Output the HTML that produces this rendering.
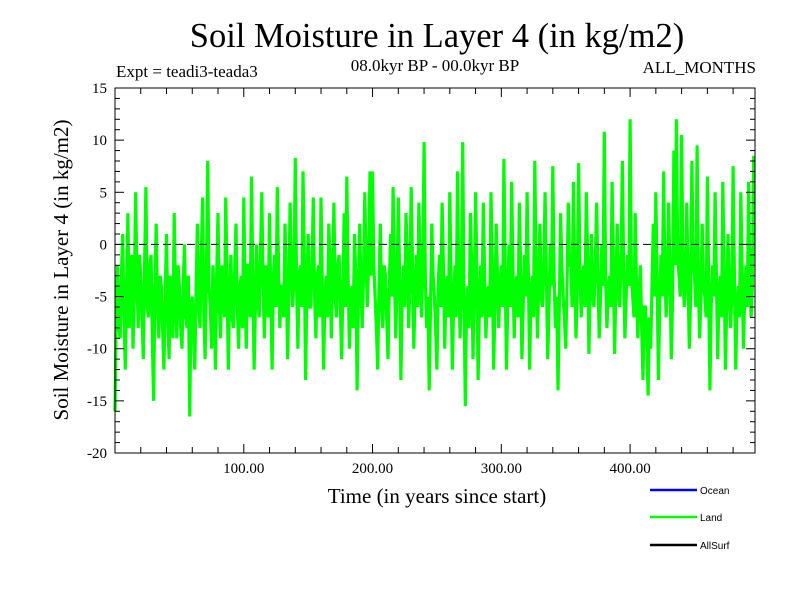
<!DOCTYPE html>
<html><head><meta charset="utf-8"><style>
body{margin:0;background:#fff}
svg{display:block;font-family:"Liberation Serif",serif}
</style></head><body>
<svg width="800" height="600" viewBox="0 0 800 600">
<rect width="800" height="600" fill="#fff"/>
<text x="437" y="47" font-size="34.5" text-anchor="middle">Soil Moisture in Layer 4 (in kg/m2)</text>
<text x="116" y="77" font-size="17">Expt = teadi3-teada3</text>
<text x="435" y="71" font-size="17" text-anchor="middle">08.0kyr BP - 00.0kyr BP</text>
<text x="756" y="73" font-size="17" text-anchor="end">ALL_MONTHS</text>
<g id="plot"></g>
<text x="437" y="503" font-size="21" text-anchor="middle">Time (in years since start)</text>
<text transform="translate(68,270) rotate(-90)" font-size="21" text-anchor="middle">Soil Moisture in Layer 4 (in kg/m2)</text>
<g font-family="Liberation Sans, sans-serif" font-size="10">
<g><line x1="650" y1="490" x2="697" y2="490" stroke="#0000ff" stroke-width="2.5"/><text x="700" y="494">Ocean</text></g>
<g><line x1="650" y1="517" x2="697" y2="517" stroke="#00ff00" stroke-width="2.5"/><text x="700" y="521">Land</text></g>
<g><line x1="650" y1="545" x2="697" y2="545" stroke="#000" stroke-width="2.5"/><text x="700" y="549">AllSurf</text></g>
</g>
</svg>
<script>
const yearStep = 1;
const landValues = [
-16,-6,-2,-8,-9,-3,1,-7,-12,-4,3,-8,-6,-1,-10,-5,5,-3,-8,-1,
-3,-7,-11,-2,5.5,-6,-7,-2,-1,-9,-15,-4,2,-6,-9,-3,-4,-8,-12,-5,
1,-7,-11,-3,-6,-9,3,-5,-9,-2,-4,-8,-10,-4,0,-7,-8,-3,-16.5,-6,
-5,-9,-12,-4,2,-6,-8,-1,4.5,-7,-11,-3,8,-4,-6,-10,-2,-5,-12,-3,
3,-6,-9,-2,-4,-7,4.5,-3,-12,-5,-1,-7,-8,-2,2,-6,-10,-4,-3,-8,
4.5,-5,-10,-2,-2,-7,6.5,-3,-12,-6,0,-5,-7,-1,5,-4,-9,-2,-3,-7,
3,-5,-12,-3,-1,-6,5.5,-2,-8,-4,-4,-7,2,-3,-11,-5,4,-2,-6,-3,
8.3,-4,-10,-3,-2,-6,7,-1,-13,-4,1,-6,-6,-2,4.5,-5,-9,-3,-2,-7,
4.5,-4,-12,-5,-3,-7,2,-2,-9,-3,4,-5,-7,-2,-1,-6,-11,-4,3,-6,
6.5,-3,-10,-5,-4,-8,1,-3,-14,-5,2,-4,-8,-3,5,-2,-6,-1,7,-3,
7,-2,-5,-8,-12,-4,2,-6,-8,-2,-3,-7,-11,-4,1,-5,5.5,-2,-9,-4,
4.5,-3,-13,-5,-2,-6,3,-1,-8,-4,5.5,-2,-10,-5,-1,-6,4,-3,-7,-2,
9.8,-3,-8,-5,-14,-6,2,-3,-5,-8,-12,-4,-1,-6,4,-2,-10,-5,-3,-7,
5,-4,-12,-5,-2,-7,7,-3,-9,-4,9.8,-5,-15.5,-6,-4,-8,3,-2,-11,-5,
5,-3,-13,-6,-2,-7,4,-3,-9,-5,-4,-7,5,-2,-12,-6,2,-3,-8,-4,
-2,-6,8.2,-3,-12,-5,0,-6,6,-2,-9,-4,-3,-7,4,-2,-11,-6,-1,-5,
5,-3,-12,-5,-3,-7,8,-2,-9,-4,2,-5,-6,-2,5,-3,-11,-6,0,-4,
7.5,-3,-8,-5,-14,-6,3,-2,-5,-7,-10,-4,4,-2,-2,-6,6,-3,-9,-4,
7.8,-2,-7,-4,-2,-6,5,-1,-10.5,-4,1,-5,-6,-2,4,-3,-9,-5,0,-4,
10.8,-3,-8,-5,-3,-6,6,-2,-10.5,-4,2,-5,-6,-1,8,-3,-9,-5,-1,-4,
12,-3,-5,-7,3,-4,-9,-5,-2,-8,-13,-6,-6,-9,-14.5,-7,-10,-4,2,-5,
5,-3,-13,-6,-1,-5,7,-2,-7,-4,4,-3,-11,-5,9,-2,12,-1,-3,-5,
10.5,-2,-6,-4,4,-3,-10,-5,8,-2,-3,-6,9.5,-3,-9,-5,2,-4,-5,-7,
6.5,-3,-14,-6,-2,-5,5,-3,-11,-5,-3,-7,6,-2,-12,-6,1,-4,-8,-5,
7.5,-3,-12,-6,-4,-7,5,-2,-10,-5,-2,-6,6,-3,-7,-4,8.5
];
const xTickValues = [100,200,300,400];
const xTickLabels = ["100.00","200.00","300.00","400.00"];
const yTickValues = [15,10,5,0,-5,-10,-15,-20];
const yTickLabels = ["15","10","5","0","-5","-10","-15","-20"];

const L=115,R=755,T=88,B=453,X0=0,X1=497,Y0=-20,Y1=15;
const sx=v=>L+(v-X0)/(X1-X0)*(R-L);
const sy=v=>B-(v-Y0)/(Y1-Y0)*(B-T);
const NS="http://www.w3.org/2000/svg";
const g=document.getElementById('plot');
function mk(t,a){const e=document.createElementNS(NS,t);for(const k in a)e.setAttribute(k,a[k]);g.appendChild(e);return e;}

let d='';
landValues.forEach((v,i)=>{d+=(i?'L':'M')+sx(i*yearStep).toFixed(1)+','+sy(v).toFixed(1);});
const line=mk('path',{d:d,fill:'none',stroke:'#00ff00','stroke-width':3.2,'stroke-linejoin':'miter'});



const zero=mk('line',{x1:L,x2:R,y1:sy(0),y2:sy(0),stroke:'#000','stroke-dasharray':'8,4','stroke-width':1});



const frame=mk('rect',{x:L,y:T,width:R-L,height:B-T,fill:'none',stroke:'#000','stroke-width':1});



for(let v=20;v<X1;v+=20){
  const big=v%100===0;
  const t1=mk('line',{x1:sx(v),x2:sx(v),y1:B,y2:B-(big?9:6),stroke:'#000'});
  
  
  const t2=mk('line',{x1:sx(v),x2:sx(v),y1:T,y2:T+(big?9:6),stroke:'#000'});
  
  
}
xTickValues.forEach((v,i)=>{
  const t=mk('text',{x:sx(v),y:B+20,'font-size':15,'text-anchor':'middle'});
  t.textContent=xTickLabels[i];
  
  
});
for(let v=Y0+1;v<Y1;v+=1){
  const big=v%5===0;
  const a=mk('line',{x1:L,x2:L+(big?9:5),y1:sy(v),y2:sy(v),stroke:'#000'});
  
  
  const b=mk('line',{x1:R,x2:R-(big?9:5),y1:sy(v),y2:sy(v),stroke:'#000'});
  
  
}
yTickValues.forEach((v,i)=>{
  const t=mk('text',{x:L-8,y:sy(v)+5,'font-size':15,'text-anchor':'end'});
  t.textContent=yTickLabels[i];
  
  
});
</script>
</body></html>
